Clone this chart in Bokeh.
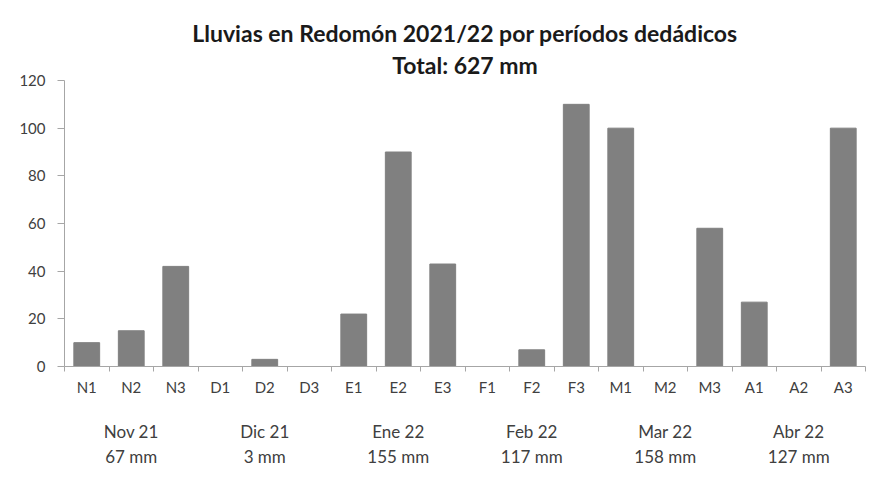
from bokeh.plotting import figure
from bokeh.models import Range1d, LinearAxis, FixedTicker, Title
from bokeh.embed import file_html
from bokeh.resources import INLINE

# ---- data ----
periods = ["N1", "N2", "N3", "D1", "D2", "D3", "E1", "E2", "E3",
           "F1", "F2", "F3", "M1", "M2", "M3", "A1", "A2", "A3"]
rain_mm = [10, 15, 42, 0, 3, 0, 22, 90, 43,
           0, 7, 110, 100, 0, 58, 27, 0, 100]
months = ["Nov 21", "Dic 21", "Ene 22", "Feb 22", "Mar 22", "Abr 22"]
month_totals = [67, 3, 155, 117, 158, 127]
y_ticks = [0, 20, 40, 60, 80, 100, 120]
title_1 = "Lluvias en Redomón 2021/22 por períodos dedádicos"
title_2 = "Total: 627 mm"

FONT = "Lato"
GRID = "#a6a6a6"
TXT = "#404040"

n = len(periods)
centers = [i + 0.5 for i in range(n)]
bounds = [float(i) for i in range(n + 1)]
group_centers = [3 * k + 1.5 for k in range(len(months))]

p = figure(width=870, height=469, output_backend="svg", toolbar_location=None,
           x_range=Range1d(0, n), y_range=Range1d(0, 120),
           x_axis_type=None, y_axis_type=None,
           min_border_left=64, min_border_right=5,
           min_border_top=80, min_border_bottom=96)
p.outline_line_color = None
p.background_fill_color = "white"
p.border_fill_color = "white"

p.vbar(x=centers, top=rain_mm, width=0.58, color="#808080")

# y axis
yax = LinearAxis(ticker=FixedTicker(ticks=y_ticks, minor_ticks=[]))
yax.axis_line_color = GRID
yax.major_tick_line_color = GRID
yax.major_tick_out = 7
yax.major_tick_in = 0
yax.major_label_standoff = 12
yax.major_label_text_font = FONT
yax.major_label_text_font_size = "15px"
yax.major_label_text_color = TXT
p.add_layout(yax, "left")

# x axis: category labels at centers, tick marks at boundaries
xax = LinearAxis(ticker=FixedTicker(ticks=centers, minor_ticks=bounds))
xax.axis_line_color = GRID
xax.major_tick_line_color = None
xax.major_tick_out = 0
xax.major_tick_in = 0
xax.minor_tick_line_color = GRID
xax.minor_tick_out = 5
xax.minor_tick_in = 0
xax.major_label_overrides = {c: lab for c, lab in zip(centers, periods)}
xax.major_label_standoff = 6
xax.major_label_text_font = FONT
xax.major_label_text_font_size = "15px"
xax.major_label_text_color = TXT
p.add_layout(xax, "below")

# month group axis
gax = LinearAxis(ticker=FixedTicker(ticks=group_centers, minor_ticks=[]))
gax.axis_line_color = None
gax.major_tick_line_color = None
gax.major_label_overrides = {c: f"{m}\n{t} mm" for c, m, t in zip(group_centers, months, month_totals)}
gax.major_label_standoff = 16
gax.major_label_text_font = FONT
gax.major_label_text_font_size = "17px"
gax.major_label_text_color = TXT
gax.major_label_text_line_height = 1.2
p.add_layout(gax, "below")

p.ygrid.ticker = FixedTicker(ticks=y_ticks)
p.ygrid.grid_line_color = GRID
p.xgrid.visible = False

p.add_layout(Title(text=title_2, align="center", text_font=FONT, text_font_size="23px",
                   text_font_style="bold", text_color="#1a1a1a", standoff=4), "above")
p.add_layout(Title(text=title_1, align="center", text_font=FONT, text_font_size="23px",
                   text_font_style="bold", text_color="#1a1a1a", standoff=0), "above")

open("out.html", "w").write(file_html(p, INLINE))
